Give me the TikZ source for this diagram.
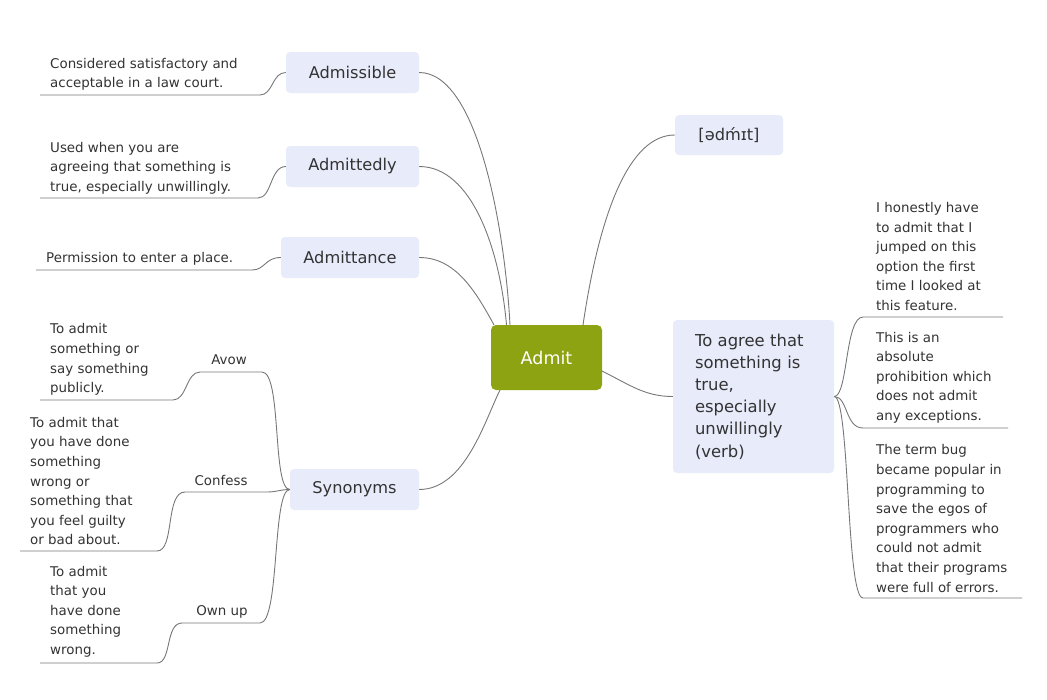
\documentclass[tikz,border=0pt]{standalone}
\usepackage{fontspec}
\setmainfont{DejaVu Sans}
\definecolor{boxfill}{HTML}{E8EBFA}
\definecolor{admitfill}{HTML}{8DA312}
\definecolor{txt}{HTML}{333333}
\definecolor{wirec}{HTML}{777777}
\begin{document}
\begin{tikzpicture}[x=1pt,y=-1pt,
 topic/.style={draw=none,fill=boxfill,rounded corners=4pt,inner sep=0pt,minimum height=41pt,font=\fontsize{16.2}{20}\selectfont,text=txt},
 leaf/.style={inner sep=0pt,anchor=west,align=left,font=\fontsize{13.4}{19.6}\selectfont,text=txt},
 wire/.style={draw=wirec,line width=0.9pt},
]
\useasboundingbox (0,0) rectangle (1047,699);

% central and topic nodes
\node[fill=admitfill,rounded corners=5pt,inner sep=0pt,minimum width=111pt,minimum height=65pt,text=white,font=\fontsize{17.5}{20}\selectfont] (admit) at (546.5,357.5) {Admit};
\node[topic,minimum width=133pt] (admissible) at (352.5,72.5) {Admissible};
\node[topic,minimum width=133pt] (admittedly) at (352.5,166.5) {Admittedly};
\node[topic,minimum width=138pt] (admittance) at (350,257.5) {Admittance};
\node[topic,minimum width=129pt] (synonyms) at (354.5,489.5) {Synonyms};
\node[topic,minimum width=108pt,minimum height=40pt] (pron) at (729,135) {[ədḿɪt]};
\node[topic,minimum width=161pt,minimum height=153pt,text width=117pt,inner xsep=22pt,align=left,font=\fontsize{16.4}{22.2}\selectfont] (verb) at (753.5,396.5) {To agree that\\something is\\true,\\especially\\unwillingly\\(verb)};

% leaf texts
\node[leaf] (l1) at (50,74.5) {Considered satisfactory and\\acceptable in a law court.};
\node[leaf] (l2) at (50,168) {Used when you are\\agreeing that something is\\true, especially unwillingly.};
\node[leaf] (l3) at (46,258.5) {Permission to enter a place.};
\node[leaf] (avowtext) at (50,359.5) {To admit\\something or\\say something\\publicly.};
\node[leaf] (confesstext) at (30,481) {To admit that\\you have done\\something\\wrong or\\something that\\you feel guilty\\or bad about.};
\node[leaf] (ownuptext) at (50,611.5) {To admit\\that you\\have done\\something\\wrong.};
\node[leaf] (r1) at (876,256.5) {I honestly have\\to admit that I\\jumped on this\\option the first\\time I looked at\\this feature.};
\node[leaf] (r2) at (876,377.5) {This is an\\absolute\\prohibition which\\does not admit\\any exceptions.};
\node[leaf] (r3) at (876,518.5) {The term bug\\became popular in\\programming to\\save the egos of\\programmers who\\could not admit\\that their programs\\were full of errors.};

\node[leaf,anchor=center] (avow) at (229,359.5) {Avow};
\node[leaf,anchor=center] (confess) at (221,480.5) {Confess};
\node[leaf,anchor=center] (ownup) at (222,611.5) {Own up};

% junction coordinates
\coordinate (a1) at (510,325);
\coordinate (a2) at (506.5,325);
\coordinate (a3) at (494,325);
\coordinate (a4) at (500,390);
\coordinate (a5) at (583,325);
\coordinate (a6) at (602,371);

\coordinate (u1) at (260,95);   \coordinate (u1e) at (40,95);
\coordinate (u2) at (258,198);  \coordinate (u2e) at (40,198);
\coordinate (u3) at (252,270);  \coordinate (u3e) at (36,270);

\coordinate (avR) at (262,372); \coordinate (avL) at (200,372);
\coordinate (avU) at (173,400); \coordinate (avE) at (40,400);
\coordinate (coR) at (267,492); \coordinate (coL) at (185,492);
\coordinate (coU) at (157,551); \coordinate (coE) at (20,551);
\coordinate (owR) at (260,623); \coordinate (owL) at (182,623);
\coordinate (owU) at (157,663); \coordinate (owE) at (40,663);

\coordinate (r1L) at (863,317); \coordinate (r1E) at (1003,317);
\coordinate (r2L) at (863,428); \coordinate (r2E) at (1008,428);
\coordinate (r3L) at (863,598); \coordinate (r3E) at (1022,598);

% connectors from the centre
\draw[wire] (admissible.east) .. controls (478,72.5) and (505,230) .. (a1);
\draw[wire] (admittedly.east) .. controls (472,166.5) and (500,250) .. (a2);
\draw[wire] (admittance.east) .. controls (455,257.5) and (475,290) .. (a3);
\draw[wire] (synonyms.east) .. controls (465,489.5) and (485,420) .. (a4);
\draw[wire] (pron.west) .. controls (630,135) and (600,210) .. (a5);
\draw[wire] (a6) .. controls (630,385) and (645,396.5) .. (verb.west);

% left leaves
\draw[wire] (admissible.west) .. controls (272,72.5) and (273,95) .. (u1) -- (u1e);
\draw[wire] (admittedly.west) .. controls (270,166.5) and (272,198) .. (u2) -- (u2e);
\draw[wire] (admittance.west) .. controls (265,257.5) and (265,270) .. (u3) -- (u3e);

% synonyms
\draw[wire] (synonyms.west) .. controls (272,489.5) and (282,372) .. (avR) -- (avL)
  .. controls (186,372) and (187,400) .. (avU) -- (avE);
\draw[wire] (synonyms.west) .. controls (280,489.5) and (277,492) .. (coR) -- (coL)
  .. controls (165,492) and (175,551) .. (coU) -- (coE);
\draw[wire] (synonyms.west) .. controls (272,489.5) and (280,623) .. (owR) -- (owL)
  .. controls (165,623) and (172,663) .. (owU) -- (owE);

% right leaves
\draw[wire] (verb.east) .. controls (848,396.5) and (845,317) .. (r1L) -- (r1E);
\draw[wire] (verb.east) .. controls (848,396.5) and (845,428) .. (r2L) -- (r2E);
\draw[wire] (verb.east) .. controls (850,396.5) and (846,598) .. (r3L) -- (r3E);
\end{tikzpicture}
\end{document}
